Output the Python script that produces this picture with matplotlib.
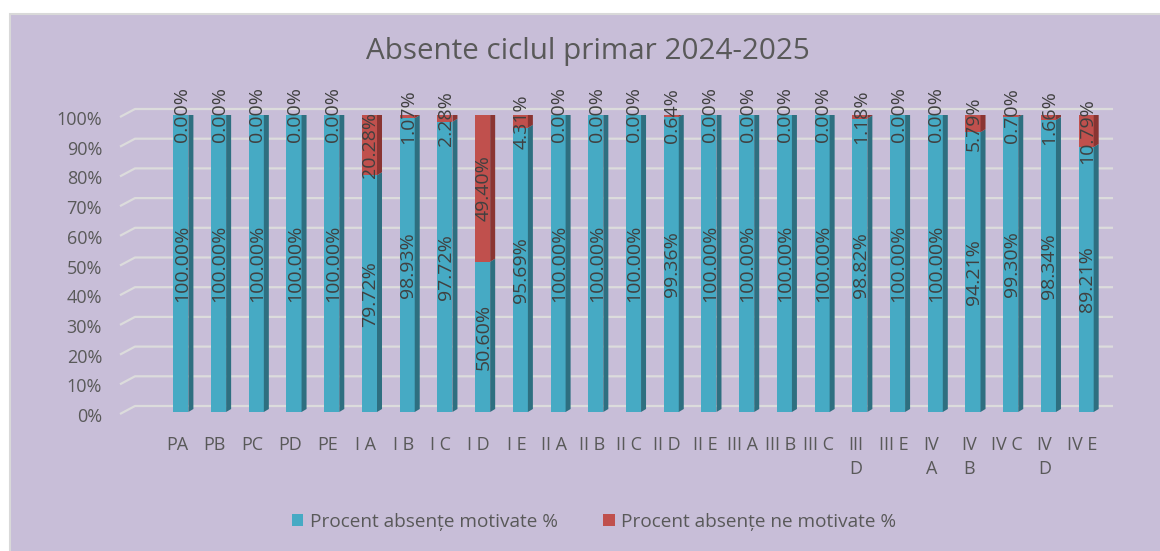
import matplotlib
matplotlib.use('Agg')
import matplotlib.pyplot as plt
from matplotlib.patches import Rectangle, Polygon, Patch

plt.rcParams['font.family'] = ['Open Sans', 'DejaVu Sans']

# Date: procente absente pe clase
clase = ['PA', 'PB', 'PC', 'PD', 'PE', 'I A', 'I B', 'I C', 'I D', 'I E',
         'II A', 'II B', 'II C', 'II D', 'II E', 'III A', 'III B', 'III C',
         'III D', 'III E', 'IV A', 'IV B', 'IV C', 'IV D', 'IV E']
etichete = ['PA', 'PB', 'PC', 'PD', 'PE', 'I A', 'I B', 'I C', 'I D', 'I E',
            'II A', 'II B', 'II C', 'II D', 'II E', 'III A', 'III B', 'III C',
            'III\nD', 'III E', 'IV\nA', 'IV\nB', 'IV C', 'IV\nD', 'IV E']
motivate = [100.00, 100.00, 100.00, 100.00, 100.00, 79.72, 98.93, 97.72, 50.60, 95.69,
            100.00, 100.00, 100.00, 99.36, 100.00, 100.00, 100.00, 100.00,
            98.82, 100.00, 100.00, 94.21, 99.30, 98.34, 89.21]
nemotivate = [0.00, 0.00, 0.00, 0.00, 0.00, 20.28, 1.07, 2.28, 49.40, 4.31,
              0.00, 0.00, 0.00, 0.64, 0.00, 0.00, 0.00, 0.00,
              1.18, 0.00, 0.00, 5.79, 0.70, 1.66, 10.79]
yticks = [0, 10, 20, 30, 40, 50, 60, 70, 80, 90, 100]

lav = '#C8BED8'
teal, teal_side = '#46AAC4', '#2E6F80'
red, red_side, red_top = '#C0504D', '#8A3432', '#C9605C'
grey = '#595959'

W, H = 1160, 551
fig = plt.figure(figsize=(W / 100, H / 100), dpi=100)
fig.patch.set_facecolor('white')
fig.patches.append(Rectangle((10 / W, -0.02), 1.0, (H - 14) / H + 0.02,
                             transform=fig.transFigure, facecolor=lav,
                             edgecolor='#D9D9D9', lw=1.5, zorder=-10))

ax_l, ax_r, ax_b, ax_t = 162, 1105, 412, 115
ax = fig.add_axes([ax_l / W, (H - ax_b) / H, (ax_r - ax_l) / W, (ax_b - ax_t) / H])
ax.set_zorder(1)
ax.set_xlim(-0.5, len(clase) - 0.5)
ax.set_ylim(0, 100)
ax.axis('off')

ux = (ax_r - ax_l) / len(clase)   # px per unit x
uy = (ax_b - ax_t) / 100.0        # px per unit y


def px(p):
    return p / ux


def py(p):
    return p / uy


# gridlines pe peretele din spate
x0, x1, x2 = -0.5 - px(42), -0.5 - px(27), len(clase) - 0.5 + px(8)
for v in yticks:
    ax.plot([x0, x1, x2], [v - py(2), v + py(6), v + py(6)], color='#DCDCDC',
            lw=1.6, zorder=0, clip_on=False, solid_capstyle='butt')
    ax.text(-0.5 - px(60), v - py(5), f'{v}%', ha='right', va='center',
            fontsize=13, color=grey)

w = 0.40
dx, dy = px(5), py(3)
xs = list(range(len(clase)))
ax.bar(xs, motivate, width=w, color=teal, zorder=2)
ax.bar(xs, nemotivate, width=w, bottom=motivate, color=red, zorder=2)

for i in xs:
    m, n = motivate[i], nemotivate[i]
    xr = i + w / 2
    for y0, y1, c in [(0, m, teal_side), (m, m + n, red_side)]:
        if y1 > y0:
            ax.add_patch(Polygon([(xr, y0), (xr + dx, y0 + dy), (xr + dx, y1 + dy), (xr, y1)],
                                 closed=True, facecolor=c, edgecolor='none', zorder=2))
    top = m + n
    ax.add_patch(Polygon([(i - w / 2, top), (i - w / 2 + dx, top + dy), (xr + dx, top + dy), (xr, top)],
                         closed=True, facecolor=red_top, edgecolor='none', zorder=2))
    ax.text(i + px(1), m / 2, f'{m:.2f}%', rotation=90, ha='center', va='center',
            fontsize=14, color='#404040', zorder=5)
    ax.text(i + px(1), m + n / 2, f'{n:.2f}%', rotation=90, ha='center', va='center',
            fontsize=14, color='#404040', zorder=5, clip_on=False)
    ax.text(i - px(4), -py(24), etichete[i], ha='center', va='top', fontsize=13,
            color=grey, linespacing=1.45)

fig.text(588 / W, 1 - 52 / H, 'Absente ciclul primar 2024-2025', ha='center', va='center',
         fontsize=21.3, color=grey)

handles = [Patch(facecolor=teal, label='Procent absențe motivate %'),
           Patch(facecolor=red, label='Procent absențe ne motivate %')]
fig.legend(handles=handles, loc='center', bbox_to_anchor=(594 / W, 1 - 522 / H), ncol=2,
           frameon=False, fontsize=13.7, handlelength=0.6, handleheight=0.6,
           handletextpad=0.35, columnspacing=2.4, labelcolor=grey)

fig.savefig('out.png', dpi=100, facecolor=fig.get_facecolor())
